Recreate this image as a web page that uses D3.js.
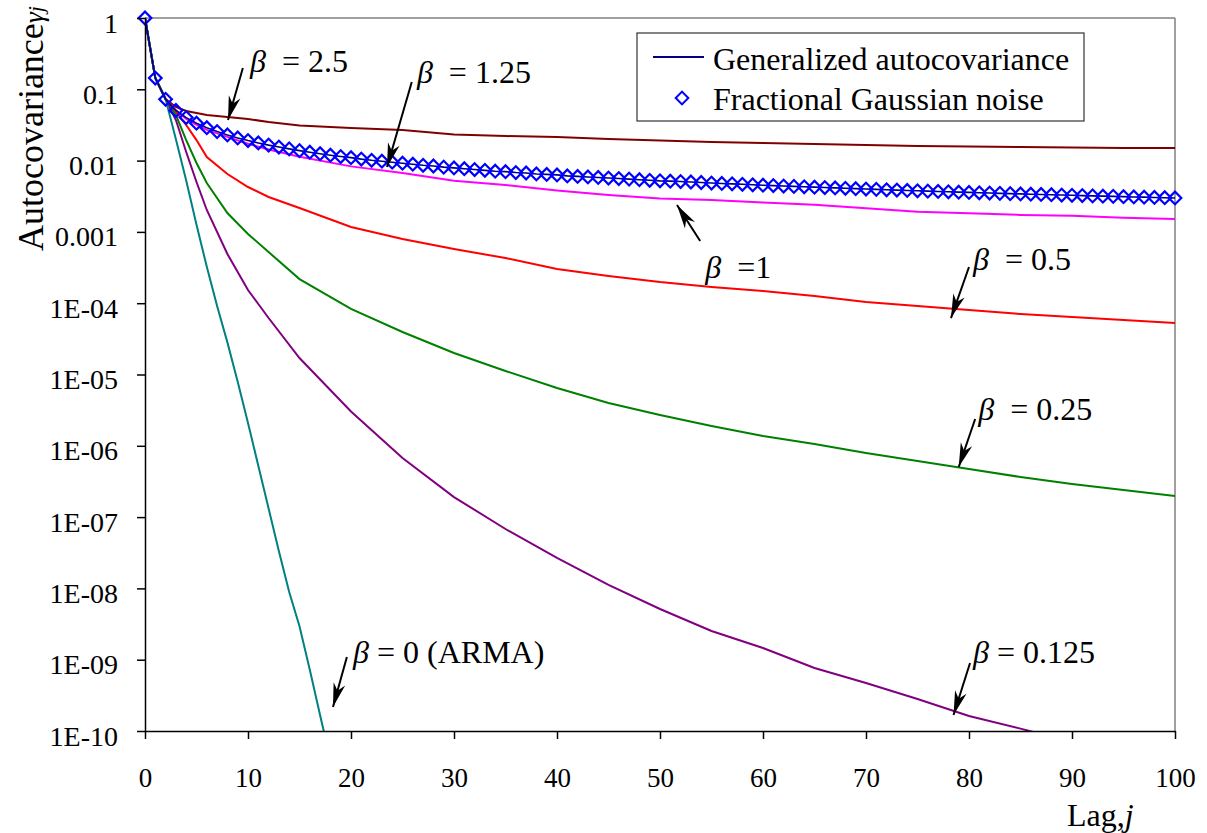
<!DOCTYPE html>
<html>
<head>
<meta charset="utf-8">
<script src="https://cdn.jsdelivr.net/npm/d3@7"></script>
<style>
  body { margin: 0; background: #fff; }
  svg text { font-family: "Liberation Serif", "Times New Roman", serif; fill: #000; }
</style>
</head>
<body>
<svg id="chart" width="1207" height="833"></svg>
<script>
var width = 1207, height = 833
var margin = {top: 18, right: 32, bottom: 102, left: 145}

// lags sampled for the generalized autocovariance curves
var lags = [0, 1, 2, 3, 4, 5, 6, 8, 10, 12, 15, 20, 25, 30, 35, 40, 45, 50, 55, 60, 65, 70, 75, 80, 85, 90, 95, 100]

var beta25 = [1, 0.144, 0.0731, 0.0565, 0.0496, 0.0465, 0.0436, 0.0409, 0.0383, 0.0348, 0.0310, 0.0286, 0.0268, 0.0232,
  0.0221, 0.0214, 0.0201, 0.0191, 0.0182, 0.0177, 0.0171, 0.0166, 0.0160, 0.0158, 0.0155, 0.0153, 0.0150, 0.0150]

var beta1 = [1, 0.144, 0.0731, 0.051, 0.0385, 0.0318, 0.0270, 0.0215, 0.0172, 0.0143, 0.0113, 0.0083, 0.00672, 0.0052,
  0.00455, 0.0038, 0.00328, 0.00293, 0.0028, 0.00259, 0.0024, 0.00215, 0.00192, 0.00183, 0.00173, 0.00168, 0.00158, 0.00152]

var beta05 = [1, 0.144, 0.0731, 0.0481, 0.0316, 0.0194, 0.0112, 0.00649, 0.00426, 0.00309, 0.00216, 0.00117, 0.000795, 0.000575,
  0.00043, 0.000302, 0.000241, 0.000198, 0.000169, 0.000148, 0.000126, 0.000104, 9.14e-5, 8.03e-5, 7.05e-5, 6.40e-5, 5.81e-5, 5.28e-5]

var beta025 = [1, 0.144, 0.0731, 0.0436, 0.0194, 0.00925, 0.00485, 0.00184, 0.000935, 0.000522, 0.000218, 8.3e-5, 3.95e-5, 2.0e-5,
  1.12e-5, 6.47e-6, 3.98e-6, 2.70e-6, 1.90e-6, 1.37e-6, 1.06e-6, 7.93e-7, 6.12e-7, 4.73e-7, 3.65e-7, 2.91e-7, 2.40e-7, 1.98e-7]

// beta = 0.125 runs off the bottom near lag 86 (lags 0..90)
var beta0125 = [1, 0.144, 0.0731, 0.0371, 0.0132, 0.00501, 0.00203, 0.00049, 0.000153, 6.2e-5, 1.7e-5, 3.03e-6, 6.75e-7, 1.91e-7,
  6.81e-8, 2.67e-8, 1.12e-8, 5.14e-9, 2.53e-9, 1.46e-9, 7.65e-10, 4.71e-10, 2.81e-10, 1.62e-10, 1.08e-10, 7.0e-11]

// beta = 0 (ARMA), lags 0..18
var armaLags = [0, 1, 2, 3, 4, 5, 6, 7, 8, 9, 10, 11, 12, 13, 14, 15, 16, 17, 18]
var beta0 = [1, 0.144, 0.0731, 0.02, 5.25e-3, 1.26e-3, 3.24e-4, 9.12e-5, 2.82e-5, 7.94e-6, 2.09e-6, 5.25e-7, 1.32e-7,
  3.31e-8, 8.91e-9, 2.95e-9, 7.24e-10, 1.66e-10, 3.98e-11]

// fractional Gaussian noise, every lag 0..100 (beta = 1.25 generalized curve lies on it)
var fgn = [1, 0.144, 0.0725, 0.0505, 0.0401, 0.0335, 0.0289, 0.0255, 0.0229, 0.0208,
  0.0191, 0.0177, 0.0165, 0.0155, 0.0146, 0.0138, 0.0131, 0.0125, 0.0119, 0.0114,
  0.0110, 0.0105, 0.0101, 0.0098, 0.0095, 0.0092, 0.0089, 0.0086, 0.0084, 0.0081,
  0.0079, 0.0077, 0.0075, 0.0073, 0.0071, 0.0070, 0.0068, 0.0067, 0.0065, 0.0064,
  0.0063, 0.0061, 0.0060, 0.0059, 0.0058, 0.0057, 0.0056, 0.0055, 0.0054, 0.0053,
  0.0052, 0.00515, 0.00508, 0.00501, 0.00493, 0.00485, 0.00478, 0.00472, 0.00465, 0.00458,
  0.00452, 0.00446, 0.0044, 0.00435, 0.00429, 0.00424, 0.00419, 0.00414, 0.00409, 0.00404,
  0.00399, 0.00395, 0.0039, 0.00386, 0.00381, 0.00377, 0.00373, 0.00369, 0.00365, 0.00361,
  0.00358, 0.00354, 0.00351, 0.00347, 0.00344, 0.00341, 0.00338, 0.00335, 0.00332, 0.00329,
  0.00326, 0.00323, 0.0032, 0.00317, 0.00315, 0.00312, 0.00309, 0.00307, 0.00304, 0.00302, 0.00299]

var xTicks = [0, 10, 20, 30, 40, 50, 60, 70, 80, 90, 100]
var yTicks = [1, 0.1, 0.01, 0.001, 1e-4, 1e-5, 1e-6, 1e-7, 1e-8, 1e-9, 1e-10]
var yTickLabels = ["1", "0.1", "0.01", "0.001", "1E-04", "1E-05", "1E-06", "1E-07", "1E-08", "1E-09", "1E-10"]

// curve labels, anchored in data space: text spot, arrow tail, arrow tip
var notes = [
  {label: "  = 2.5", at: [10.2, 0.175], from: [9.5, 0.199], to: [8.06, 0.0371]},
  {label: "  = 1.25", at: [26.4, 0.1225], from: [25.9, 0.1265], to: [23.5, 0.00813]},
  {label: "  =1", at: [54.4, 2.25e-4], from: [53.9, 7.45e-4], to: [51.65, 2.38e-3]},
  {label: "  = 0.5", at: [80.4, 2.92e-4], from: [80.0, 3.22e-4], to: [78.25, 6.19e-5]},
  {label: "  = 0.25", at: [80.9, 2.3e-6], from: [80.6, 2.38e-6], to: [79.0, 5.05e-7]},
  {label: " = 0.125", at: [80.4, 9.0e-10], from: [80.1, 9.0e-10], to: [78.5, 1.68e-10]},
  {label: " = 0 (ARMA)", at: [20.2, 9.0e-10], from: [19.6, 1.09e-9], to: [18.25, 2.17e-10]}
]

var series = [
  {lags: lags, vals: beta25, color: "#800000"},
  {lags: lags, vals: beta1, color: "#FF00FF"},
  {lags: lags, vals: beta05, color: "#FF0000"},
  {lags: lags, vals: beta025, color: "#008000"},
  {lags: lags, vals: beta0125, color: "#800080"},
  {lags: armaLags, vals: beta0, color: "#008080"}
]

var svg = d3.select("#chart")

var xScale = d3.scaleLinear()
  .domain([0, 100])
  .range([margin.left, width - margin.right])

var yScale = d3.scaleLog()
  .domain([1e-10, 1])
  .range([height - margin.bottom, margin.top])

svg.append("defs").append("clipPath")
  .attr("id", "plot-clip")
  .append("rect")
  .attr("x", xScale(0))
  .attr("y", yScale(1) - 10)
  .attr("width", xScale(100) - xScale(0) + 10)
  .attr("height", yScale(1e-10) - yScale(1) + 10)

svg.select("defs").append("marker")
  .attr("id", "arrow")
  .attr("markerUnits", "userSpaceOnUse")
  .attr("viewBox", "-26 -7 28 14")
  .attr("markerWidth", 28)
  .attr("markerHeight", 14)
  .attr("refX", 0)
  .attr("refY", 0)
  .attr("orient", "auto")
  .append("path")
  .attr("d", "M0,0 L-24,-6 L-17,0 L-24,6 Z")
  .attr("fill", "#000")

// frame: grey top and right edges
svg.append("line")
  .attr("x1", xScale(0)).attr("x2", xScale(100))
  .attr("y1", yScale(1)).attr("y2", yScale(1))
  .attr("stroke", "#808080").attr("stroke-width", 1.5)
svg.append("line")
  .attr("x1", xScale(100)).attr("x2", xScale(100))
  .attr("y1", yScale(1)).attr("y2", yScale(1e-10))
  .attr("stroke", "#808080").attr("stroke-width", 1.5)

// curves
var line = d3.line()
  .x(d => xScale(d[0]))
  .y(d => yScale(d[1]))

var linesG = svg.append("g")
  .attr("class", "lines")
  .attr("clip-path", "url(#plot-clip)")

series.forEach(function(s) {
  linesG.append("path")
    .datum(s.lags.map((l, i) => [l, s.vals[i]]))
    .attr("d", line)
    .attr("fill", "none")
    .attr("stroke", s.color)
    .attr("stroke-width", 2)
})

var fgnPts = fgn.map((v, i) => [i, v])

linesG.append("path")
  .datum(fgnPts)
  .attr("d", line)
  .attr("fill", "none")
  .attr("stroke", "#000080")
  .attr("stroke-width", 1.6)

var diamond = d3.symbol().type(d3.symbolSquare).size(80)

svg.append("g")
  .attr("class", "fgn")
  .selectAll("path")
  .data(fgnPts)
  .enter()
  .append("path")
  .attr("d", diamond)
  .attr("transform", d => `translate(${xScale(d[0])},${yScale(d[1])}) rotate(45)`)
  .attr("fill", "none")
  .attr("stroke", "#0000FF")
  .attr("stroke-width", 2.2)

// axes
var yAxis = d3.axisLeft(yScale)
  .tickValues(yTicks)
  .tickFormat((d, i) => yTickLabels[i])
  .tickSize(8)
  .tickSizeOuter(0)
  .tickPadding(19)

var yRender = svg.append("g")
  .attr("transform", `translate(${xScale(0)},0)`)
  .call(yAxis)
yRender.select(".domain").attr("stroke", "#000").attr("stroke-width", 1.5)
yRender.selectAll(".tick line").attr("stroke", "#000").attr("stroke-width", 1.5)
yRender.selectAll(".tick text")
  .attr("dy", "0.5em")
  .style("font-size", "28px")
  .style("font-family", '"Liberation Serif", "Times New Roman", serif')

var xAxis = d3.axisBottom(xScale)
  .tickValues(xTicks)
  .tickSize(8)
  .tickSizeOuter(0)
  .tickPadding(29)

var xRender = svg.append("g")
  .attr("transform", `translate(0,${yScale(1e-10)})`)
  .call(xAxis)
xRender.select(".domain").attr("stroke", "#000").attr("stroke-width", 1.5)
xRender.selectAll(".tick line").attr("stroke", "#000").attr("stroke-width", 1.5)
xRender.selectAll(".tick text")
  .style("font-size", "27px")
  .style("font-family", '"Liberation Serif", "Times New Roman", serif')

// axis titles
var yTitle = svg.append("text")
  .attr("transform", `translate(43,6) rotate(-90)`)
  .attr("text-anchor", "end")
  .style("font-size", "36px")
yTitle.append("tspan").text("Autocovariance")
yTitle.append("tspan").style("font-style", "italic").style("font-size", "28px").text("γ")
yTitle.append("tspan").style("font-style", "italic").style("font-size", "22px").text("j")

var xTitle = svg.append("text")
  .attr("x", 1067)
  .attr("y", 826)
  .style("font-size", "32px")
xTitle.append("tspan").text("Lag,")
xTitle.append("tspan").style("font-style", "italic").text("j")

// curve labels with arrows
var notesG = svg.append("g").attr("class", "notes")

notesG.selectAll("line")
  .data(notes)
  .enter()
  .append("line")
  .attr("x1", d => xScale(d.from[0]))
  .attr("y1", d => yScale(d.from[1]))
  .attr("x2", d => xScale(d.to[0]))
  .attr("y2", d => yScale(d.to[1]))
  .attr("stroke", "#000")
  .attr("stroke-width", 2)
  .attr("marker-end", "url(#arrow)")

var noteText = notesG.selectAll("text")
  .data(notes)
  .enter()
  .append("text")
  .attr("x", d => xScale(d.at[0]))
  .attr("y", d => yScale(d.at[1]))
  .style("font-size", "32px")
  .style("white-space", "pre")
noteText.append("tspan").style("font-style", "italic").text("β")
noteText.append("tspan").text(d => d.label)

// legend
var legend = svg.append("g").attr("class", "legend")
legend.append("rect")
  .attr("x", 637).attr("y", 33)
  .attr("width", 447).attr("height", 88)
  .attr("fill", "#fff")
  .attr("stroke", "#333")
  .attr("stroke-width", 1.2)
legend.append("line")
  .attr("x1", 653).attr("x2", 704)
  .attr("y1", 57).attr("y2", 57)
  .attr("stroke", "#000080")
  .attr("stroke-width", 2)
legend.append("path")
  .attr("d", diamond)
  .attr("transform", "translate(682,98) rotate(45)")
  .attr("fill", "none")
  .attr("stroke", "#0000FF")
  .attr("stroke-width", 2)
legend.append("text")
  .attr("x", 713).attr("y", 70)
  .style("font-size", "32px")
  .text("Generalized autocovariance")
legend.append("text")
  .attr("x", 713).attr("y", 110)
  .style("font-size", "32px")
  .text("Fractional Gaussian noise")
</script>
</body>
</html>
